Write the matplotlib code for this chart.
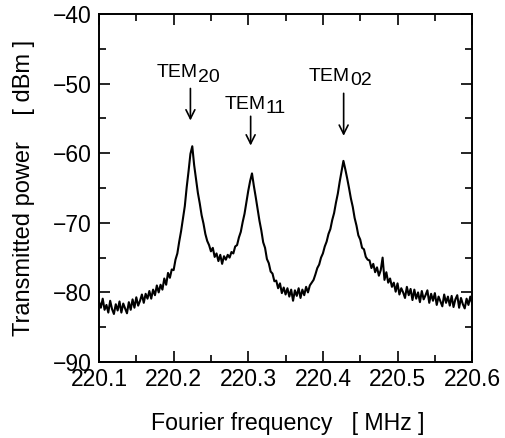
import numpy as np
import matplotlib
matplotlib.use("Agg")
import matplotlib.pyplot as plt
from matplotlib.ticker import MultipleLocator

plt.rcParams['font.family'] = ['Liberation Sans', 'DejaVu Sans']

# Frequency axis (MHz), sampled every 2.5 kHz
f_start, f_stop = 220.1, 220.6
freq = np.linspace(f_start, f_stop, 201)
x_ticks = [220.1, 220.2, 220.3, 220.4, 220.5, 220.6]
x_ticklabels = ["220.1", "220.2", "220.3", "220.4", "220.5", "220.6"]

# Transmitted power (dBm), 4 samples per 10 kHz row
power = [
    -81.3, -82.2, -80.9, -82.5,
    -81.8, -82.9, -81.2, -82.4,
    -83.1, -81.7, -82.6, -81.3,
    -82.9, -81.6, -82.3, -83.0,
    -81.4, -82.5, -81.0, -82.2,
    -80.7, -81.9, -81.2, -80.3,
    -81.5, -80.2, -80.9, -79.8,
    -80.9, -79.6, -80.4, -79.0,
    -80.0, -78.9, -79.6, -78.0,
    -78.9, -77.2, -77.9, -76.7,
    -76.8, -75.3, -74.4, -72.7,
    -71.2, -69.4, -67.6, -64.9,
    -62.6, -60.1, -59.0, -61.7,
    -63.7, -65.7, -67.2, -68.9,
    -70.1, -71.6, -72.6, -73.2,
    -74.1, -73.6, -74.9, -74.4,
    -75.5, -74.6, -75.9, -74.8,
    -75.3, -74.6, -75.0, -74.2,
    -74.4, -73.4, -73.2, -72.1,
    -71.3, -69.9, -68.7, -67.0,
    -65.4, -64.0, -62.9, -64.7,
    -66.3, -68.0, -69.7, -71.1,
    -72.8, -73.6, -75.2, -75.8,
    -77.0, -77.3, -78.4, -78.3,
    -79.4, -78.7, -80.1, -79.3,
    -80.3, -79.4, -80.6, -79.6,
    -81.2, -79.7, -80.5, -79.4,
    -80.8, -79.6, -80.4, -79.2,
    -80.0, -79.0, -78.6, -78.2,
    -77.4, -76.5, -76.0, -75.0,
    -74.4, -73.4, -72.7, -71.6,
    -70.9, -69.6, -68.6, -67.1,
    -65.8, -64.1, -62.6, -61.1,
    -62.3, -63.6, -65.0, -66.5,
    -67.7, -69.3, -70.4, -71.8,
    -72.4, -73.6, -73.8, -74.9,
    -75.3, -75.4, -76.5, -75.9,
    -77.1, -76.4, -77.6, -76.8,
    -75.0, -78.2, -77.1, -78.6,
    -78.0, -79.2, -78.6, -79.9,
    -78.7, -80.3, -79.4, -80.0,
    -80.8, -79.2, -80.4, -79.5,
    -81.1, -79.6, -80.9, -80.0,
    -81.4, -79.8, -81.0, -80.4,
    -79.7, -81.5, -80.2, -81.2,
    -80.1, -81.8, -80.6, -81.3,
    -82.0, -80.3, -81.5, -80.6,
    -81.9, -80.5, -82.1, -81.0,
    -80.4, -82.2, -80.8, -81.7,
    -82.3, -80.9, -81.8, -80.6,
    -81.6,
]

# mode labels: name, subscript, label split x, label baseline y, arrow x, arrow top, arrow tip
mode_names = ["TEM", "TEM", "TEM"]
mode_idx = ["20", "11", "02"]
label_x = [220.232, 220.3234, 220.4365]
label_y = [-49.1, -53.6, -49.6]
arrow_x = [220.2225, 220.3032, 220.4278]
arrow_top = [-50.3, -54.3, -51.0]
arrow_tip = [-55.7, -59.3, -57.9]

fig = plt.figure(figsize=(5.05, 4.38), dpi=100)
ax = fig.add_axes([0.196, 0.1735, 0.739, 0.7945])

ax.plot(freq, power, color='black', lw=1.5)

# mode markers
for name, idx, lx, ly, axx, at, tip in zip(mode_names, mode_idx, label_x, label_y,
                                           arrow_x, arrow_top, arrow_tip):
    ax.annotate(name, xy=(lx, ly), ha='right', va='baseline', fontsize=14)
    ax.annotate(idx, xy=(lx, ly), xytext=(0, -3), textcoords='offset points',
                ha='left', va='baseline', fontsize=14)
    ax.annotate('', xy=(axx, tip), xytext=(axx, at),
                arrowprops=dict(arrowstyle='->', lw=1.2, color='black',
                                mutation_scale=16))

ax.set_xlim(f_start, f_stop)
ax.set_ylim(-90, -40)
ax.set_xticks(x_ticks)
ax.set_xticklabels(x_ticklabels)
ax.xaxis.set_minor_locator(MultipleLocator(0.05))
ax.yaxis.set_major_locator(MultipleLocator(10))
ax.yaxis.set_minor_locator(MultipleLocator(5))

ax.tick_params(which='both', direction='in', top=True, right=True, width=1.2)
ax.tick_params(which='major', length=8, labelsize=16.5)
ax.tick_params(which='minor', length=5)
ax.tick_params(axis='x', pad=4.5)
ax.tick_params(axis='y', pad=5)
for sp in ax.spines.values():
    sp.set_linewidth(1.4)

ax.set_xlabel("Fourier frequency   [ MHz ]", fontsize=16.7)
ax.xaxis.set_label_coords(0.507, -0.145)
ax.set_ylabel("Transmitted power    [ dBm ]", fontsize=17)
ax.yaxis.set_label_coords(-0.172, 0.5)

fig.savefig("out.png", dpi=100)
